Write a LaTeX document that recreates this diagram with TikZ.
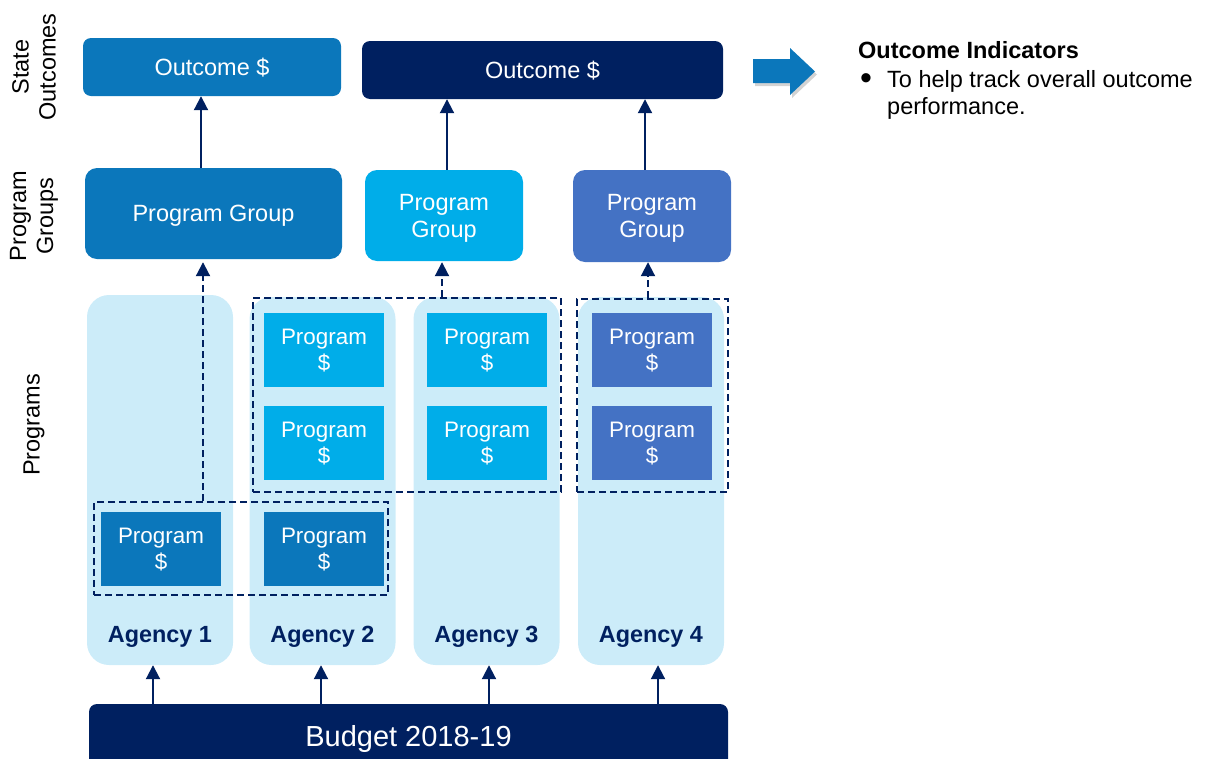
\documentclass[tikz,border=0pt]{standalone}
\usepackage{fontspec}
\setmainfont{Liberation Sans}
\usetikzlibrary{arrows.meta,shadows}
\definecolor{navy}{RGB}{0,32,96}
\definecolor{midblue}{RGB}{11,119,187}
\definecolor{cyanb}{RGB}{0,173,233}
\definecolor{blueb}{RGB}{68,114,196}
\definecolor{lightb}{RGB}{204,236,249}
\begin{document}
\begin{tikzpicture}[x=1pt,y=-1pt,
  box/.style={rectangle, inner sep=0pt, text=white, align=center, text depth=0pt},
  fs/.style={font=\fontsize{23.5}{27}\selectfont},
  prog/.style={box, minimum width=120pt, minimum height=74pt, font=\fontsize{22.4}{26}\selectfont},
  col/.style={rectangle, rounded corners=22pt, fill=lightb, minimum width=146pt, minimum height=368pt, inner sep=0pt},
  alab/.style={text=navy, font=\bfseries\fontsize{23.4}{28}\selectfont},
  arr/.style={draw=navy, line width=2pt, -{Triangle[width=14pt,length=14pt]}},
  darr/.style={arr, dash pattern=on 7pt off 4pt},
  grp/.style={rectangle, draw=navy, line width=2pt, dash pattern=on 7pt off 4pt, inner sep=0pt},
]
\useasboundingbox (0,0) rectangle (1210,758);

% agency columns
\node[col, minimum height=370pt] (a1) at (160,480) {};
\node[col] (a2) at (322.5,481) {};
\node[col] (a3) at (486.5,481) {};
\node[col] (a4) at (651,481) {};
\node[alab] (l1) at (160,637) {Agency 1};
\node[alab] (l2) at (322.5,637) {Agency 2};
\node[alab] (l3) at (486.5,637) {Agency 3};
\node[alab] (l4) at (651,637) {Agency 4};

% program boxes
\node[prog, fill=midblue] (p1c) at (161,548.5) {Program\\\$};
\node[prog, fill=cyanb] (p2a) at (324,350) {Program\\\$};
\node[prog, fill=cyanb] (p2b) at (324,442.5) {Program\\\$};
\node[prog, fill=midblue] (p2c) at (324,548.5) {Program\\\$};
\node[prog, fill=cyanb] (p3a) at (487,350) {Program\\\$};
\node[prog, fill=cyanb] (p3b) at (487,442.5) {Program\\\$};
\node[prog, fill=blueb] (p4a) at (652,350) {Program\\\$};
\node[prog, fill=blueb] (p4b) at (652,442.5) {Program\\\$};

% dashed groups
\node[grp, minimum width=294pt, minimum height=93pt] (g1) at (241,548.5) {};
\node[grp, minimum width=308pt, minimum height=194pt] (g2) at (407,395) {};
\node[grp, minimum width=151pt, minimum height=193pt] (g3) at (652.5,395.5) {};

% outcomes
\node[box, fs, fill=midblue, rounded corners=8pt, minimum width=258pt, minimum height=58pt] (o1) at (212,67) {Outcome \$};
\node[box, fs, fill=navy, rounded corners=8pt, minimum width=361pt, minimum height=58pt] (o2) at (542.5,70) {Outcome \$};

% program groups
\node[box, fs, fill=midblue, rounded corners=12pt, minimum width=257pt, minimum height=91pt] (pg1) at (213.5,213.5) {Program Group};
\node[box, fs, fill=cyanb, rounded corners=12pt, minimum width=158pt, minimum height=91pt] (pg2) at (444,215.5) {Program\\Group};
\node[box, fs, fill=blueb, rounded corners=12pt, minimum width=158pt, minimum height=92pt] (pg3) at (652,216) {Program\\Group};

% budget
\node[rectangle, fill=navy, rounded corners=8pt, minimum width=639pt, minimum height=70pt, inner sep=0pt] (bud) at (408.5,739) {};
\node[text=white, font=\fontsize{29}{34}\selectfont] (btxt) at (408.5,739) {Budget 2018-19};

% solid arrows program group -> outcome
\draw[arr] ([xshift=-12.5pt]pg1.north) -- ([xshift=-12.5pt]pg1.north |- o1.south);
\draw[arr] ([xshift=3pt]pg2.north) -- ([xshift=3pt]pg2.north |- o2.south);
\draw[arr] ([xshift=-7pt]pg3.north) -- ([xshift=-7pt]pg3.north |- o2.south);

% dashed arrows group -> program group
\draw[darr] ([xshift=-10.5pt]pg1.south |- g1.north) -- ([xshift=-10.5pt,yshift=-3pt]pg1.south);
\draw[darr] ([xshift=-2pt]pg2.south |- g2.north) -- ([xshift=-2pt,yshift=-1pt]pg2.south);
\draw[darr] ([xshift=-4pt]pg3.south |- g3.north) -- ([xshift=-4pt]pg3.south);

% budget arrows
\draw[arr] ([xshift=-7pt]a1.south |- bud.north) -- ([xshift=-7pt]a1.south);
\draw[arr] ([xshift=-1.5pt]a2.south |- bud.north) -- ([xshift=-1.5pt]a2.south);
\draw[arr] ([xshift=2.5pt]a3.south |- bud.north) -- ([xshift=2.5pt]a3.south);
\draw[arr] ([xshift=7pt]a4.south |- bud.north) -- ([xshift=7pt]a4.south);

% left labels
\node[fs, rotate=90, align=center] (ls) at (34,67) {State\\Outcomes};
\node[fs, rotate=90, align=center] (lg) at (34,216) {Program\\Groups};
\node[fs, rotate=90] (lp) at (34,425) {Programs};

% block arrow
\fill[midblue, drop shadow={opacity=0.35, shadow xshift=2pt, shadow yshift=-3pt}] (753,59) -- (790,59) -- (790,48) -- (815,71.5) -- (790,95) -- (790,83) -- (753,83) -- cycle;

% right text
\node[anchor=base west, font=\bfseries\fontsize{23.5}{27}\selectfont, inner sep=0pt] (oi) at (858,58) {Outcome Indicators};
\node[anchor=base, font=\fontsize{34}{34}\selectfont, inner sep=0pt] (bul) at (866,89) {•};
\node[anchor=base west, fs, inner sep=0pt] (b1) at (887,87) {To help track overall outcome};
\node[anchor=base west, fs, inner sep=0pt] (b2) at (887,114) {performance.};
\end{tikzpicture}
\end{document}
